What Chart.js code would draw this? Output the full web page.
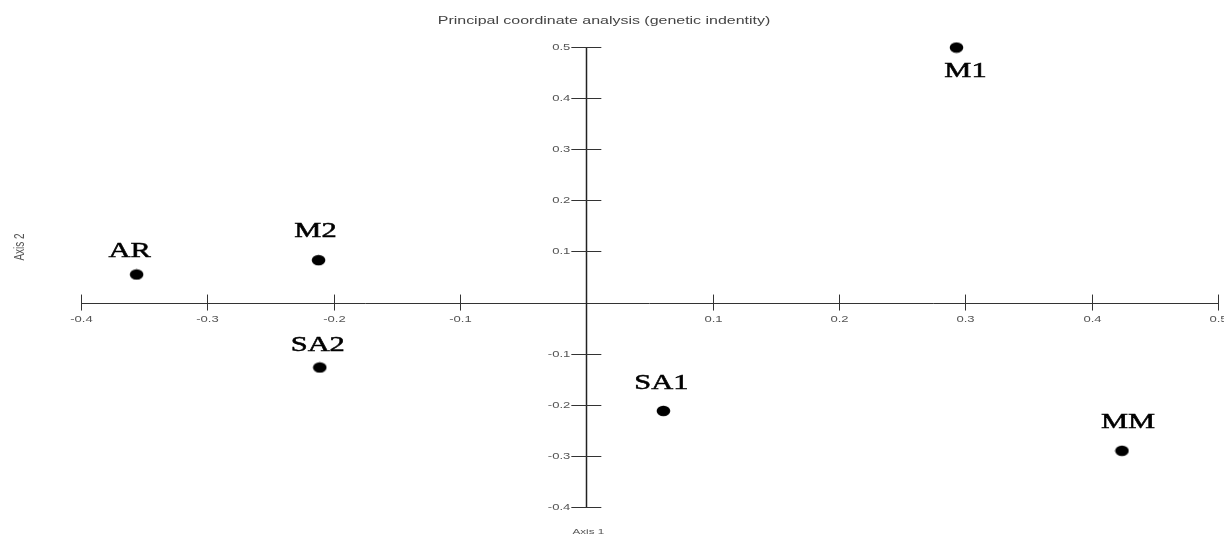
<!DOCTYPE html>
<html>
<head>
<meta charset="utf-8">
<title>Principal coordinate analysis</title>
<script src="https://cdn.jsdelivr.net/npm/chart.js@4/dist/chart.umd.min.js"></script>
<style>
    html, body { margin: 0; padding: 0; background: #fff; }
    #wrap { width: 1224px; height: 537px; position: relative; }
</style>
</head>
<body>
<div id="wrap"><canvas id="pcoaChart"></canvas></div>
<script>
// Datos
const groups = ['AR', 'M2', 'SA2', 'SA1', 'M1', 'MM'];
const axis1 = [-0.356, -0.212, -0.211, 0.061, 0.293, 0.424];
const axis2 = [0.055, 0.083, -0.127, -0.212, 0.499, -0.290];

const xTicks = [-0.4, -0.3, -0.2, -0.1, 0.1, 0.2, 0.3, 0.4, 0.5];
const yTicks = [0.5, 0.4, 0.3, 0.2, 0.1, -0.1, -0.2, -0.3, -0.4];

const TITLE = 'Principal coordinate analysis (genetic indentity)';
const X_TITLE = 'Axis 1';
const Y_TITLE = 'Axis 2';

// La imagen original está estirada en horizontal
const STRETCH = 1.45;

// Desplazamiento de cada etiqueta respecto a su punto (px)
const labelOffset = {
    AR: [-7, -24],
    M2: [-3, -30],
    SA2: [-2, -23],
    SA1: [-2, -28],
    M1: [9, 23],
    MM: [6, -29]
};

// Punto negro ligeramente ovalado
function makeDot() {
    const c = document.createElement('canvas');
    c.width = 15;
    c.height = 12;
    const g = c.getContext('2d');
    g.fillStyle = '#000';
    g.beginPath();
    g.ellipse(7.5, 6, 6.8, 5.3, 0, 0, Math.PI * 2);
    g.fill();
    return c;
}

function stretchedText(ctx, text, x, y, align, weight) {
    ctx.save();
    ctx.translate(x, y);
    ctx.scale(STRETCH, 1);
    ctx.textAlign = align;
    ctx.fillText(text, 0, 0);
    if (weight) {
        ctx.lineWidth = weight;
        ctx.strokeText(text, 0, 0);
    }
    ctx.restore();
}

const crossAxes = {
    id: 'crossAxes',
    afterDatasetsDraw(chart) {
        const ctx = chart.ctx;
        const xs = chart.scales.x;
        const ys = chart.scales.y;
        const x0 = xs.getPixelForValue(0);
        const y0 = ys.getPixelForValue(0);

        ctx.save();
        ctx.strokeStyle = '#333';
        ctx.lineWidth = 1;

        // Eje 1
        ctx.beginPath();
        ctx.moveTo(xs.getPixelForValue(xs.min), Math.round(y0) + 0.5);
        ctx.lineTo(xs.getPixelForValue(xs.max), Math.round(y0) + 0.5);
        ctx.stroke();

        // Eje 2 (algo más grueso en el original)
        ctx.strokeStyle = '#222';
        ctx.lineWidth = 1.5;
        ctx.beginPath();
        ctx.moveTo(Math.round(x0) + 0.5, ys.getPixelForValue(ys.max));
        ctx.lineTo(Math.round(x0) + 0.5, ys.getPixelForValue(ys.min));
        ctx.stroke();

        ctx.strokeStyle = '#333';
        ctx.lineWidth = 1;

        // Marcas y etiquetas del eje 1
        ctx.fillStyle = '#555';
        ctx.font = '9px "Liberation Sans", Arial, sans-serif';
        ctx.textBaseline = 'middle';
        xTicks.forEach(v => {
            const px = Math.round(xs.getPixelForValue(v)) + 0.5;
            ctx.beginPath();
            ctx.moveTo(px, y0 - 8);
            ctx.lineTo(px, y0 + 8);
            ctx.stroke();
            stretchedText(ctx, v.toFixed(1), px, y0 + 17, 'center');
        });

        // Marcas y etiquetas del eje 2
        yTicks.forEach(v => {
            const py = Math.round(ys.getPixelForValue(v)) + 0.5;
            ctx.beginPath();
            ctx.moveTo(x0 - 15, py);
            ctx.lineTo(x0 + 15, py);
            ctx.stroke();
            stretchedText(ctx, v.toFixed(1), x0 - 16, py, 'right');
        });

        // Títulos
        ctx.fillStyle = '#444';
        ctx.font = '11px "Liberation Sans", Arial, sans-serif';
        stretchedText(ctx, TITLE, 604, 21, 'center');

        ctx.fillStyle = '#555';
        ctx.font = '8px "Liberation Sans", Arial, sans-serif';
        stretchedText(ctx, X_TITLE, x0 + 2, 532, 'center');

        ctx.save();
        ctx.translate(20, 247);
        ctx.rotate(-Math.PI / 2);
        ctx.scale(1, STRETCH);
        ctx.font = '10px "Liberation Sans", Arial, sans-serif';
        ctx.textAlign = 'center';
        ctx.fillText(Y_TITLE, 0, 0);
        ctx.restore();

        // Etiquetas de los puntos
        ctx.fillStyle = '#000';
        ctx.strokeStyle = '#000';
        ctx.font = '21px "Liberation Serif", "Times New Roman", serif';
        groups.forEach((name, i) => {
            const px = xs.getPixelForValue(axis1[i]);
            const py = ys.getPixelForValue(axis2[i]);
            const off = labelOffset[name];
            stretchedText(ctx, name, px + off[0], py + off[1] + 1, 'center', 0.5);
        });

        ctx.restore();
    }
};

document.addEventListener('DOMContentLoaded', () => {
    const ctx = document.getElementById('pcoaChart').getContext('2d');
    new Chart(ctx, {
        type: 'scatter',
        data: {
            labels: groups,
            datasets: [{
                label: 'PCoA',
                data: groups.map((g, i) => ({ x: axis1[i], y: axis2[i] })),
                pointStyle: makeDot(),
                backgroundColor: '#000',
                borderColor: '#000',
                clip: false
            }]
        },
        options: {
            responsive: true,
            maintainAspectRatio: false,
            animation: false,
            layout: {
                padding: { left: 81, right: 6, top: 47, bottom: 30 }
            },
            plugins: {
                legend: { display: false },
                tooltip: { enabled: false },
                title: { display: false }
            },
            scales: {
                x: { type: 'linear', min: -0.4, max: 0.5, display: false },
                y: { type: 'linear', min: -0.4, max: 0.5, display: false }
            }
        },
        plugins: [crossAxes]
    });
});
</script>
</body>
</html>
